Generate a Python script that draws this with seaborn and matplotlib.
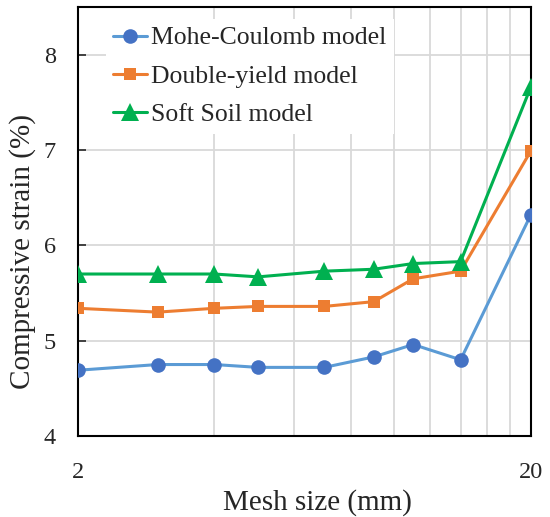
import matplotlib
matplotlib.use('Agg')
import matplotlib.pyplot as plt
import matplotlib.ticker as mticker
import seaborn as sns


mesh_size = [2, 3, 4, 5, 7, 9, 11, 14, 20]
mohr_coulomb = [4.69, 4.75, 4.75, 4.72, 4.72, 4.83, 4.96, 4.80, 6.32]
double_yield = [5.34, 5.30, 5.34, 5.36, 5.36, 5.41, 5.65, 5.73, 6.99]
soft_soil = [5.70, 5.70, 5.70, 5.67, 5.73, 5.75, 5.81, 5.83, 7.66]

x_labels = ['2', '20']
y_ticks = [4, 5, 6, 7, 8]
minor_x = [4, 6, 8, 10, 12, 14, 16, 18]


sns.set_style('white')
plt.rcParams['font.family'] = ['Liberation Serif', 'DejaVu Serif']

fig = plt.figure(figsize=(5.5, 5.17), dpi=100)
ax = fig.add_axes([0.1418, 0.1567, 0.965 - 0.1418, 0.986 - 0.1567])

sns.lineplot(x=mesh_size, y=mohr_coulomb, ax=ax, color='#5B9BD5', linewidth=2.2,
             marker='o', markersize=10.5, markerfacecolor='#4472C4', markeredgewidth=0,
             label='Mohe-Coulomb model', zorder=3)
sns.lineplot(x=mesh_size, y=double_yield, ax=ax, color='#ED7D31', linewidth=2.2,
             marker='s', markersize=9, markerfacecolor='#ED7D31', markeredgewidth=0,
             label='Double-yield model', zorder=3)
sns.lineplot(x=mesh_size, y=soft_soil, ax=ax, color='#00B050', linewidth=2.2,
             marker='^', markersize=13, markerfacecolor='#00B050', markeredgewidth=0,
             label='Soft Soil model', zorder=3)

ax.set_xscale('log')
ax.set_xlim(2, 20)
ax.set_ylim(4, 8.5)
ax.xaxis.set_major_locator(mticker.FixedLocator([2, 20]))
ax.xaxis.set_major_formatter(mticker.FixedFormatter(x_labels))
ax.xaxis.set_minor_locator(mticker.FixedLocator(minor_x))
ax.xaxis.set_minor_formatter(mticker.NullFormatter())
ax.set_yticks(y_ticks)

ax.grid(True, which='minor', axis='x', color='#D9D9D9', linewidth=1.3)
ax.grid(True, which='major', axis='y', color='#D9D9D9', linewidth=1.3)
ax.set_axisbelow(True)

for s in ax.spines.values():
    s.set_color('black')
    s.set_linewidth(1.5)

ax.tick_params(axis='y', which='major', direction='in', length=6, width=1.2,
               labelsize=17.5, pad=16, left=True)
ax.tick_params(axis='x', which='major', direction='in', length=3, width=1.2,
               labelsize=17.5, pad=19, bottom=True)
ax.tick_params(axis='x', which='minor', length=0)

ax.set_xlabel('Mesh size (mm)', fontsize=21)
ax.set_ylabel('Compressive strain (%)', fontsize=21)
ax.xaxis.set_label_coords(0.528, -0.123)
ax.yaxis.set_label_coords(-0.092, 0.43)

leg = ax.legend(loc='upper left', bbox_to_anchor=(0.033, 1.003), fontsize=18.5,
                frameon=True, facecolor='white', edgecolor='none', framealpha=1,
                handlelength=1.3, handletextpad=0.15, labelspacing=0.6,
                borderpad=0.3, fancybox=False)

fig.savefig('out.png', dpi=100)
